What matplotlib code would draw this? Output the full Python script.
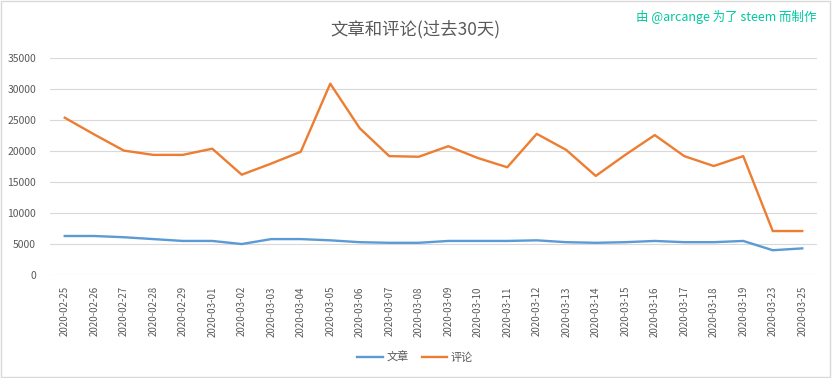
import matplotlib
matplotlib.use("Agg")
import matplotlib.pyplot as plt
from matplotlib.patches import Rectangle

plt.rcParams["font.family"] = ["Noto Sans CJK SC", "DejaVu Sans"]

dates = ["2020-02-25", "2020-02-26", "2020-02-27", "2020-02-28", "2020-02-29",
         "2020-03-01", "2020-03-02", "2020-03-03", "2020-03-04", "2020-03-05",
         "2020-03-06", "2020-03-07", "2020-03-08", "2020-03-09", "2020-03-10",
         "2020-03-11", "2020-03-12", "2020-03-13", "2020-03-14", "2020-03-15",
         "2020-03-16", "2020-03-17", "2020-03-18", "2020-03-19", "2020-03-23",
         "2020-03-25"]
posts = [6300, 6300, 6100, 5800, 5500, 5500, 5000, 5800, 5800, 5600,
         5300, 5200, 5200, 5500, 5500, 5500, 5600, 5300, 5200, 5300,
         5500, 5300, 5300, 5500, 4000, 4300]
comments = [25400, 22700, 20100, 19400, 19400, 20400, 16200, 18000, 19900, 30900,
            23700, 19200, 19100, 20800, 18900, 17400, 22800, 20200, 16000, 19400,
            22600, 19200, 17600, 19200, 7100, 7100]

text_color = "#595959"

fig = plt.figure(figsize=(8.32, 3.78), dpi=100)
ax = fig.add_axes([50 / 832, 1 - 275 / 378, 767 / 832, (275 - 58.3) / 378])

x = range(len(dates))
ax.plot(x, posts, color="#5B9BD5", lw=1.7, label="文章", solid_joinstyle="round")
ax.plot(x, comments, color="#ED7D31", lw=1.7, label="评论", solid_joinstyle="round")

ax.set_xlim(-0.5, len(dates) - 0.5)
ax.set_ylim(0, 35000)
ax.set_yticks(range(0, 35001, 5000))
ax.set_xticks(list(x))
ax.set_xticklabels(dates, rotation=90, fontsize=7, color=text_color)
ax.tick_params(axis="y", labelsize=7.5, labelcolor=text_color, length=0, pad=10)
ax.tick_params(axis="x", length=0, pad=8)
ax.grid(axis="y", color="#D9D9D9", lw=0.8)
ax.set_axisbelow(True)
for s in ax.spines.values():
    s.set_visible(False)

fig.text(415 / 832, 1 - 29 / 378, "文章和评论(过去30天)", ha="center", va="center",
         fontsize=12.5, color=text_color)
fig.text(817 / 832, 1 - 17 / 378, "由 @arcange 为了 steem 而制作", ha="right", va="center",
         fontsize=9, color="#00C8A0")

fig.legend(loc="center", bbox_to_anchor=(415 / 832, 1 - 357 / 378), ncol=2, frameon=False,
           fontsize=8, handlelength=2.3, handletextpad=0.3, columnspacing=1.2,
           labelcolor=text_color)

fig.patches.append(Rectangle((0.001, 0.002), 0.997, 0.995, transform=fig.transFigure,
                             fill=False, edgecolor="#D9D9D9", lw=1))

fig.savefig("out.png", dpi=100)
